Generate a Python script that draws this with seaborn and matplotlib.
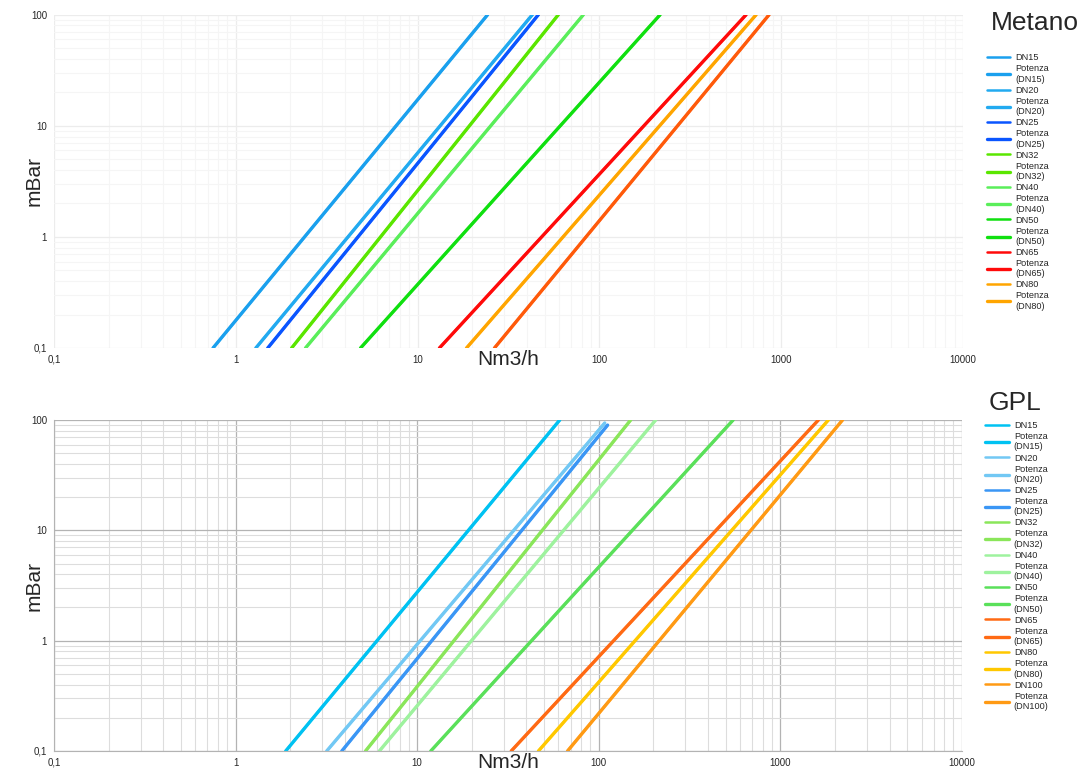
import matplotlib
matplotlib.use("Agg")
import matplotlib.pyplot as plt
import matplotlib.ticker as mticker
import numpy as np
import pandas as pd
import seaborn as sns

sns.set_style("white")
plt.rcParams['font.family'] = ['Liberation Sans', 'DejaVu Sans']

# Metano: flow (Nm3/h) at 0.1 mBar and at 100 mBar
met_dn = ['DN15', 'DN20', 'DN25', 'DN32', 'DN40', 'DN50', 'DN65', 'DN80', 'DN100']
met_q_low = [0.75, 1.29, 1.50, 2.03, 2.42, 4.86, 13.2, 18.6, 26.5]
met_q_high = [24.3, 42.8, 46.2, 59.5, 81.7, 216, 642, 729, 859]
met_p_low = [0.1] * 9
met_p_high = [100] * 9
met_colors = ['#1aa0ee', '#22aaf0', '#0a55ff', '#5ae600', '#5aee5a', '#10e010',
              '#ff0a0a', '#ffa500', '#ff5a0a']
met_in_legend = 8   # the legend stops at DN80

# GPL
gpl_dn = ['DN15', 'DN20', 'DN25', 'DN32', 'DN40', 'DN50', 'DN65', 'DN80', 'DN100']
gpl_q_low = [1.89, 3.18, 3.85, 5.2, 6.2, 11.9, 33.0, 46.6, 67.4]
gpl_q_high = [61, 108, 112, 150, 206, 550, 1622, 1841, 2203]
gpl_p_low = [0.1] * 9
gpl_p_high = [100, 94, 90, 100, 100, 100, 100, 100, 100]
gpl_colors = ['#00c2f2', '#72c8f4', '#3a96f5', '#8ae65a', '#9ef29e', '#5ae05a',
              '#ff6a14', '#ffc800', '#ff9a14']
gpl_in_legend = 9


def make_df(dn, ql, qh, pl, ph):
    rows = []
    for i, d in enumerate(dn):
        rows.append((d, ql[i], pl[i]))
        rows.append((d, qh[i], ph[i]))
    return pd.DataFrame(rows, columns=['DN', 'Nm3/h', 'mBar'])


def fmt(v, pos):
    return ('%g' % v).replace('.', ',')


def draw(ax, df, dn, colors, n_leg, gridc, minorc, leg_y):
    for i, d in enumerate(dn):
        sub = df[df['DN'] == d]
        lab1 = d if i < n_leg else '_' + d
        lab2 = 'Potenza\n(%s)' % d if i < n_leg else '_p' + d
        sns.lineplot(data=sub, x='Nm3/h', y='mBar', ax=ax, color=colors[i],
                     lw=1.8, label=lab1, estimator=None, sort=True)
        sns.lineplot(data=sub, x='Nm3/h', y='mBar', ax=ax, color=colors[i],
                     lw=2.4, label=lab2, estimator=None, sort=True)
    ax.set_xscale('log')
    ax.set_yscale('log')
    ax.set_xlim(0.1, 10000)
    ax.set_ylim(0.1, 100)
    for axis in (ax.xaxis, ax.yaxis):
        axis.set_major_locator(mticker.LogLocator(base=10, numticks=10))
        axis.set_minor_locator(mticker.LogLocator(base=10, subs=np.arange(2, 10), numticks=20))
        axis.set_major_formatter(mticker.FuncFormatter(fmt))
        axis.set_minor_formatter(mticker.NullFormatter())
    ax.grid(True, which='major', color=gridc, lw=0.9)
    ax.grid(True, which='minor', color=minorc, lw=0.8)
    ax.set_axisbelow(True)
    for s in ax.spines.values():
        s.set_visible(False)
    ax.tick_params(which='major', labelsize=7, length=3, color=gridc, pad=2)
    ax.tick_params(which='minor', length=0)
    ax.set_xlabel('Nm3/h', fontsize=15, labelpad=-11)
    ax.set_ylabel('mBar', fontsize=15)
    ax.yaxis.set_label_coords(-0.011, 0.5)
    ax.legend(loc='upper left', bbox_to_anchor=(1.022, leg_y), frameon=False,
              fontsize=6.6, handlelength=2.6, handletextpad=0.5,
              labelspacing=0.22, borderaxespad=0)


fig = plt.figure(figsize=(10.82, 7.75), dpi=100)
ax1 = fig.add_axes([0.0499, 0.551, 0.840, 0.430])
ax2 = fig.add_axes([0.0499, 0.031, 0.839, 0.427])

draw(ax1, make_df(met_dn, met_q_low, met_q_high, met_p_low, met_p_high),
     met_dn, met_colors, met_in_legend, '#ececec', '#f5f5f5', 0.895)
draw(ax2, make_df(gpl_dn, gpl_q_low, gpl_q_high, gpl_p_low, gpl_p_high),
     gpl_dn, gpl_colors, gpl_in_legend, '#b3b3b3', '#dddddd', 1.008)
ax2.spines['left'].set_visible(True)
ax2.spines['bottom'].set_visible(True)
ax2.spines['left'].set_color('#b3b3b3')
ax2.spines['bottom'].set_color('#b3b3b3')

fig.text(0.956, 0.970, 'Metano', fontsize=19, ha='center', va='center')
fig.text(0.938, 0.480, 'GPL', fontsize=19, ha='center', va='center')

fig.savefig('out.png', dpi=100)
